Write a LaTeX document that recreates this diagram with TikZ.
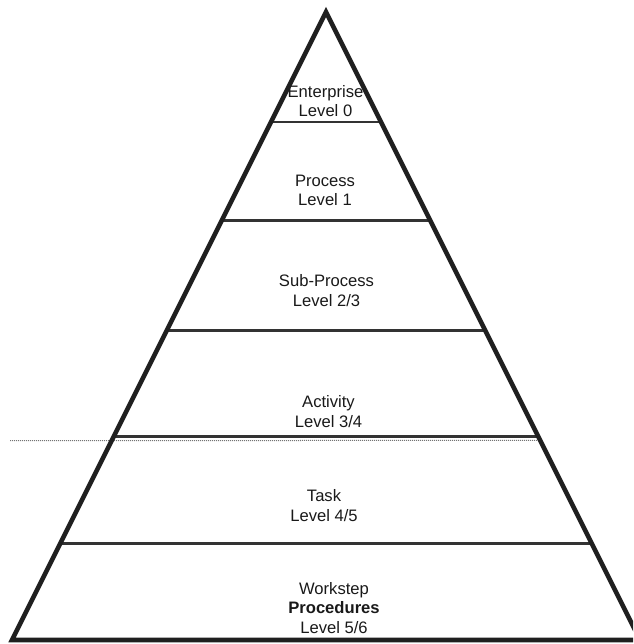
\documentclass[tikz,border=0pt]{standalone}
\usepackage{fontspec}
\setmainfont{Liberation Sans}
\usetikzlibrary{calc}
\begin{document}
\begin{tikzpicture}[x=1pt,y=-1pt,
  outline/.style={line width=4.6pt, draw=black!88, line join=miter},
  tier/.style={line width=3pt, draw=black!80},
  guide/.style={line width=1pt, draw=black!55, dash pattern=on 1pt off 1pt},
  lbl/.style={align=center, anchor=base, inner sep=0pt, text=black!90,
              font=\fontsize{16.6}{19.5}\selectfont}]
\useasboundingbox (0,0) rectangle (633,644);
\clip (0,0) rectangle (633,644);

% pyramid corners
\coordinate (apex) at (326,12);
\coordinate (bl) at (12,640);
\coordinate (br) at (640,640);

% dividing lines between the levels (heights measured from the top)
\foreach \h/\w in {122/2.6, 221/3, 330.5/3, 437/3, 543/3}
  \draw[tier, line width=\w pt]
    ($(apex)!{(\h-12)/628}!(bl)$) -- ($(apex)!{(\h-12)/628}!(br)$);

% dotted reference line under Activity
\coordinate (gstart) at (10,440.5);
\coordinate (gend) at ($(apex)!{(440.5-12)/628}!(br)$);
\draw[guide] (gstart) -- (gend);

% level labels (placed at the baseline of their last line)
\node[lbl] (l0) at (325.5,117) {Enterprise\\Level 0};
\node[lbl] (l1) at (325,206)   {Process\\Level 1};
\node[lbl] (l2) at (326.5,306) {Sub-Process\\Level 2/3};
\node[lbl] (l3) at (328.5,427) {Activity\\Level 3/4};
\node[lbl] (l4) at (324,521)   {Task\\Level 4/5};
\node[lbl] (l5) at (334,633)   {Workstep\\\textbf{Procedures}\\Level 5/6};

% pyramid outline
\draw[outline] (apex) -- (bl) -- (br) -- cycle;
\end{tikzpicture}
\end{document}
